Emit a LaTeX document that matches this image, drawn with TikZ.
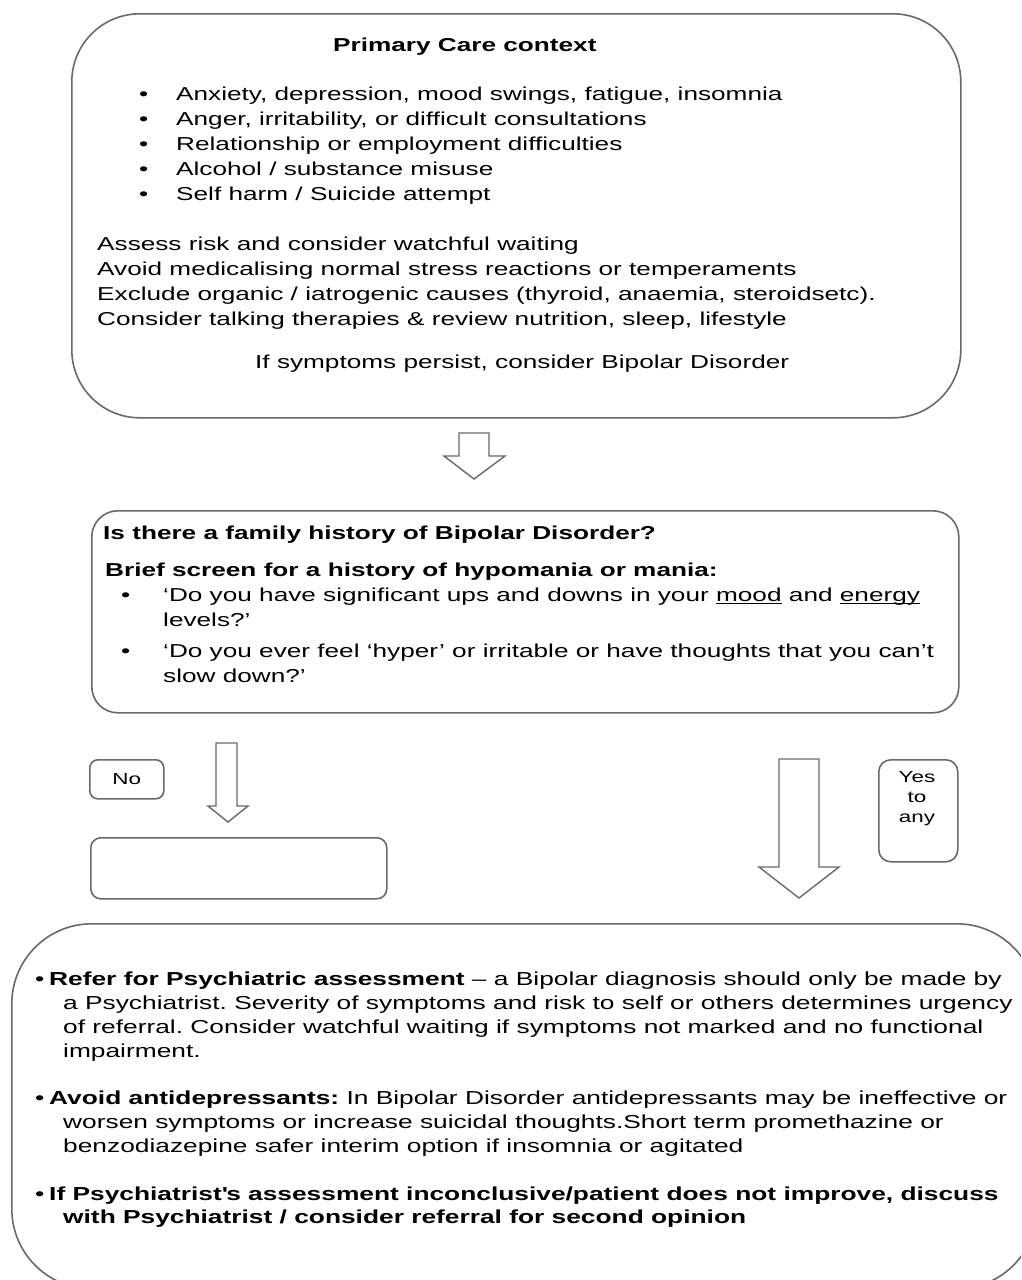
\documentclass[tikz,border=0pt]{standalone}
\usepackage{fontspec}
\setmainfont[FakeStretch=1.40]{Liberation Sans}
\usetikzlibrary{positioning}
\definecolor{boxline}{RGB}{105,105,105}
\newcommand{\undl}[1]{\underline{\smash{#1}}}
\frenchspacing

\begin{document}
\begin{tikzpicture}[x=1pt, y=-1pt,
  box/.style={draw=boxline, line width=1.6pt, rectangle, anchor=north west, inner sep=0pt},
  txt/.style={inner sep=0pt, anchor=north west, align=left, font=\fontsize{18.7}{25}\selectfont},
  small/.style={inner sep=0pt, align=center, font=\fontsize{16}{20}\selectfont},
  blockarrow/.style={draw=boxline, line width=1.4pt, fill=white, line join=miter}]
\useasboundingbox (0,0) rectangle (1021,1280);
\clip (0,0) rectangle (1021,1280);
\fill[white] (0,0) rectangle (1021,1280);

% boxes
\node[box, rounded corners=68pt, minimum width=889pt, minimum height=404pt] (care) at (71,13) {};
\node[box, rounded corners=26pt, minimum width=867pt, minimum height=202pt] (screen) at (91,510) {};
\node[box, small, rounded corners=8pt, minimum width=74pt, minimum height=39pt] (no) at (89,759) {No};
\node[box, rounded corners=10pt, minimum width=296pt, minimum height=61pt] (empty) at (90,837) {};
\node[box, rounded corners=12pt, minimum width=79pt, minimum height=102pt] (yes) at (878,759) {};
\node[box, rounded corners=80pt, minimum width=1025pt, minimum height=365pt] (refer) at (11,923) {};

% primary care text
\node[txt] (caretitle) at (333,38) {\bfseries Primary Care context};
\node[txt] (carelist) at (139,87) {\makebox[37pt][l]{•}Anxiety, depression, mood swings, fatigue, insomnia\\
\makebox[37pt][l]{•}Anger, irritability, or difficult consultations\\
\makebox[37pt][l]{•}Relationship or employment difficulties\\
\makebox[37pt][l]{•}Alcohol / substance misuse\\
\makebox[37pt][l]{•}Self harm / Suicide attempt};
\node[txt] (careadvice) at (97,237) {Assess risk and consider watchful waiting\\
Avoid medicalising normal stress reactions or temperaments\\
Exclude organic / iatrogenic causes (thyroid, anaemia, steroidsetc).\\
Consider talking therapies \& review nutrition, sleep, lifestyle};
\node[txt] (carepersist) at (255,355) {If symptoms persist, consider Bipolar Disorder};

% screening text
\node[txt] (screenfamily) at (103,526) {\bfseries Is there a family history of Bipolar Disorder?};
\node[txt] (screenbrief) at (105,563) {\bfseries Brief screen for a history of hypomania or mania:};
\node[txt] (screenlist) at (121,588) {\makebox[42pt][l]{•}‘Do you have significant ups and downs in your \undl{mood} and \undl{energy}\\
\hspace*{42pt}levels?’\\[6pt]
\makebox[42pt][l]{•}‘Do you ever feel ‘hyper’ or irritable or have thoughts that you can’t\\
\hspace*{42pt}slow down?’};

% yes label
\node[small, anchor=north] (yestext) at (917,771) {Yes\\to\\any};

% referral text
\node[txt, font=\fontsize{18.8}{23.8}\selectfont] (referlist) at (35,972) {\makebox[14pt][l]{•}\textbf{Refer for Psychiatric assessment} – a Bipolar diagnosis should only be made by\\
\hspace*{28pt}a Psychiatrist. Severity of symptoms and risk to self or others determines urgency\\
\hspace*{28pt}of referral. Consider watchful waiting if symptoms not marked and no functional\\
\hspace*{28pt}impairment.\\[23.8pt]
\makebox[14pt][l]{•}\textbf{Avoid antidepressants:} In Bipolar Disorder antidepressants may be ineffective or\\
\hspace*{28pt}worsen symptoms or increase suicidal thoughts.Short term promethazine or\\
\hspace*{28pt}benzodiazepine safer interim option if insomnia or agitated\\[23.8pt]
\makebox[14pt][l]{•}\textbf{If Psychiatrist\textquotesingle s assessment inconclusive/patient does not improve, discuss}\\
\hspace*{28pt}\textbf{with Psychiatrist / consider referral for second opinion}};

% block arrows
\draw[blockarrow] (459,433) -- (489,433) -- (489,456) -- (505,456) -- (474,479) -- (444,456) -- (459,456) -- cycle;
\draw[blockarrow] (216,743) -- (237,743) -- (237,806) -- (248,806) -- (228,822) -- (208,806) -- (216,806) -- cycle;
\draw[blockarrow] (779,759) -- (819,759) -- (819,867) -- (839,867) -- (799,898) -- (759,867) -- (779,867) -- cycle;
\end{tikzpicture}
\end{document}
